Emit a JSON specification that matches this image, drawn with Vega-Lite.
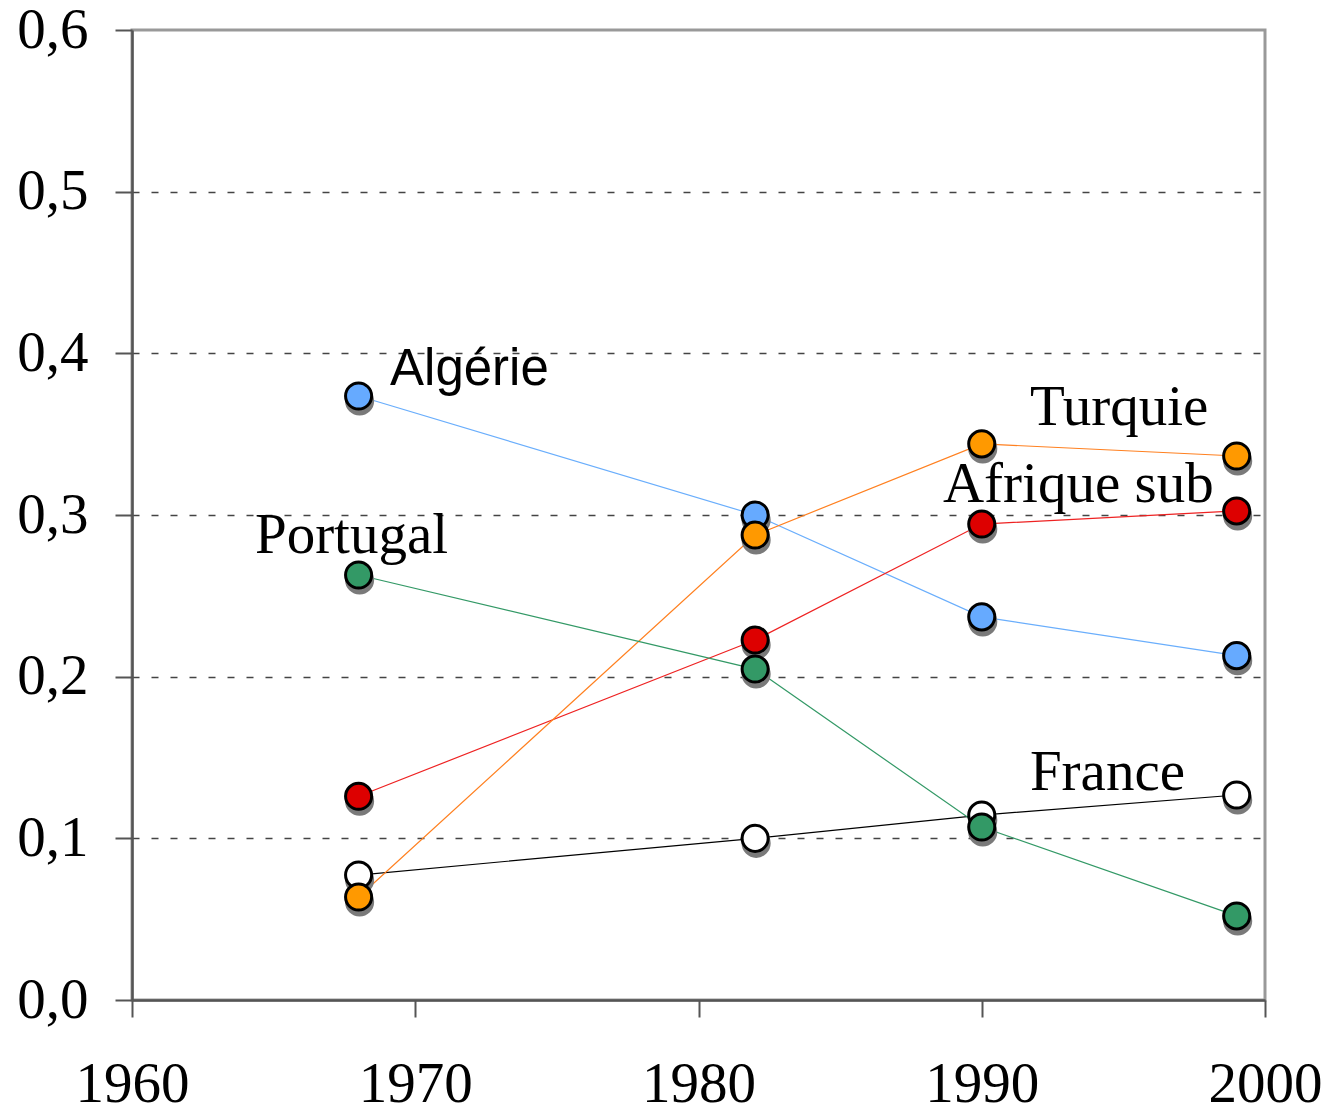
{
  "$schema": "https://vega.github.io/schema/vega-lite/v6.json",
  "width": 1133,
  "height": 970,
  "autosize": "none",
  "padding": {"left": 132, "top": 30, "right": 61, "bottom": 111},
  "background": "white",
  "config": {
    "view": {"stroke": "#999999", "strokeWidth": 3},
    "axis": {
      "labelFont": "Liberation Serif",
      "labelFontSize": 57,
      "labelColor": "black",
      "domainColor": "#555555",
      "domainWidth": 2.5,
      "tickColor": "#555555",
      "tickWidth": 2,
      "tickSize": 17,
      "title": null
    }
  },
  "datasets": {
    "pts": [
      {"series": "Algérie", "year": 1968, "value": 0.3736},
      {"series": "Algérie", "year": 1982, "value": 0.300},
      {"series": "Algérie", "year": 1990, "value": 0.237},
      {"series": "Algérie", "year": 1999, "value": 0.213},
      {"series": "France", "year": 1968, "value": 0.0773},
      {"series": "France", "year": 1982, "value": 0.100},
      {"series": "France", "year": 1990, "value": 0.1144},
      {"series": "France", "year": 1999, "value": 0.1268},
      {"series": "Afrique sub", "year": 1968, "value": 0.126},
      {"series": "Afrique sub", "year": 1982, "value": 0.2227},
      {"series": "Afrique sub", "year": 1990, "value": 0.2944},
      {"series": "Afrique sub", "year": 1999, "value": 0.3025},
      {"series": "Turquie", "year": 1968, "value": 0.0637},
      {"series": "Turquie", "year": 1982, "value": 0.2876},
      {"series": "Turquie", "year": 1990, "value": 0.344},
      {"series": "Turquie", "year": 1999, "value": 0.3365},
      {"series": "Portugal", "year": 1968, "value": 0.2629},
      {"series": "Portugal", "year": 1982, "value": 0.2047},
      {"series": "Portugal", "year": 1990, "value": 0.107},
      {"series": "Portugal", "year": 1999, "value": 0.052}
    ],
    "labels": [
      {"label": "Turquie", "year": 1991.7, "value": 0.3557},
      {"label": "Afrique sub", "year": 1988.63, "value": 0.308},
      {"label": "Portugal", "year": 1964.34, "value": 0.2765},
      {"label": "France", "year": 1991.7, "value": 0.1299}
    ],
    "labelsSans": [
      {"label": "Algérie", "year": 1969.11, "value": 0.3804}
    ]
  },
  "layer": [
    {
      "data": {"name": "pts"},
      "mark": {"type": "line", "strokeWidth": 1.2},
      "encoding": {
        "x": {
          "field": "year", "type": "quantitative",
          "scale": {"domain": [1960, 2000], "nice": false, "zero": false},
          "axis": {"values": [1960, 1970, 1980, 1990, 2000], "format": "d", "labelPadding": 39, "grid": false, "labelFlush": false}
        },
        "y": {
          "field": "value", "type": "quantitative",
          "scale": {"domain": [0, 0.6], "nice": false},
          "axis": {
            "values": [0, 0.1, 0.2, 0.3, 0.4, 0.5, 0.6],
            "labelExpr": "replace(format(datum.value, '.1f'), '.', ',')",
            "labelPadding": 27,
            "grid": true,
            "gridColor": "#444444",
            "gridDash": [7, 12],
            "gridWidth": 1.5,
            "gridOpacity": {"condition": {"test": "datum.value >= 0.59 || datum.value <= 0.01", "value": 0}, "value": 1}
          }
        },
        "color": {
          "field": "series", "type": "nominal", "legend": null,
          "scale": {
            "domain": ["Algérie", "France", "Afrique sub", "Turquie", "Portugal"],
            "range": ["#6aaefc", "#000000", "#ee2222", "#ff8020", "#339966"]
          }
        },
        "order": {"field": "year"}
      }
    },
    {
      "data": {"name": "pts"},
      "mark": {"type": "circle", "size": 680, "opacity": 1, "fill": "#7a7a7a", "stroke": "#7a7a7a", "strokeWidth": 3, "xOffset": 1, "yOffset": 5},
      "encoding": {
        "x": {"field": "year", "type": "quantitative"},
        "y": {"field": "value", "type": "quantitative"}
      }
    },
    {
      "data": {"name": "pts"},
      "mark": {"type": "circle", "size": 680, "opacity": 1, "stroke": "black", "strokeWidth": 3},
      "encoding": {
        "x": {"field": "year", "type": "quantitative"},
        "y": {"field": "value", "type": "quantitative"},
        "fill": {
          "field": "series", "type": "nominal", "legend": null,
          "scale": {
            "domain": ["Algérie", "France", "Afrique sub", "Turquie", "Portugal"],
            "range": ["#66aaff", "#ffffff", "#dd0000", "#ff9900", "#339966"]
          }
        }
      }
    },
    {
      "data": {"name": "labels"},
      "mark": {"type": "text", "font": "Liberation Serif", "fontSize": 57, "align": "left", "baseline": "alphabetic", "color": "black"},
      "encoding": {
        "x": {"field": "year", "type": "quantitative"},
        "y": {"field": "value", "type": "quantitative"},
        "text": {"field": "label"}
      }
    },
    {
      "data": {"name": "labelsSans"},
      "mark": {"type": "text", "font": "Liberation Sans", "fontSize": 51, "align": "left", "baseline": "alphabetic", "color": "black"},
      "encoding": {
        "x": {"field": "year", "type": "quantitative"},
        "y": {"field": "value", "type": "quantitative"},
        "text": {"field": "label"}
      }
    }
  ]
}
